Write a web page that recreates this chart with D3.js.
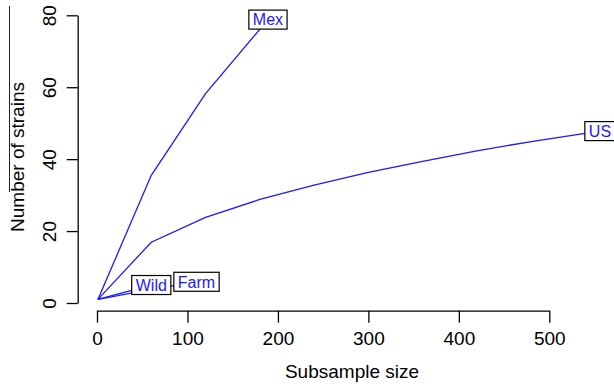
<!DOCTYPE html>
<html>
<head>
<meta charset="utf-8">
<script src="https://cdn.jsdelivr.net/npm/d3@7"></script>
<style>
  body { margin: 0; background: #fff; }
  svg { display: block; font-family: "Liberation Sans", Arial, Helvetica, sans-serif; }
  .axis path, .axis line { stroke: #000; stroke-width: 1.3; }
  .axis text { font-size: 19px; fill: #000; }
</style>
</head>
<body>
<div id="chart"></div>
<script>
// rarefaction curves: subsample size vs number of strains
const seriesNames = ['Mex', 'US', 'Wild', 'Farm'];
const mexSize = [1, 60, 120, 189];
const mexStrains = [1, 35.5, 58.2, 78.8];
const usSize = [1, 60, 120, 180, 240, 300, 360, 420, 480, 556];
const usStrains = [1, 16.9, 23.8, 28.8, 32.8, 36.3, 39.4, 42.3, 44.9, 47.8];
const wildSize = [1, 60];
const wildStrains = [1, 5.0];
const farmSize = [1, 60, 110];
const farmStrains = [1, 3.8, 5.9];
const xTicks = [0, 100, 200, 300, 400, 500];
const yTicks = [0, 20, 40, 60, 80];

const W = 614, H = 386;
const svg = d3.select('#chart').append('svg')
  .attr('width', W)
  .attr('height', H);

const x = d3.scaleLinear().domain([0, 500]).range([97, 549.3]);
const y = d3.scaleLinear().domain([0, 80]).range([303, 15.3]);

const series = [
  { name: seriesNames[0], size: mexSize, strains: mexStrains },
  { name: seriesNames[1], size: usSize, strains: usStrains },
  { name: seriesNames[2], size: wildSize, strains: wildStrains },
  { name: seriesNames[3], size: farmSize, strains: farmStrains }
];

// axes
const xAxis = d3.axisBottom(x).tickValues(xTicks).tickSizeInner(12).tickSizeOuter(0);
const gx = svg.append('g')
  .attr('class', 'axis')
  .attr('transform', 'translate(0,310.7)')
  .call(xAxis);
gx.selectAll('text').attr('y', 34).attr('dy', 0);

const yAxis = d3.axisLeft(y).tickValues(yTicks).tickSizeInner(11).tickSizeOuter(0);
const gy = svg.append('g')
  .attr('class', 'axis')
  .attr('transform', 'translate(77.7,0)')
  .call(yAxis);
gy.selectAll('text')
  .attr('transform', 'rotate(-90)')
  .attr('x', 0)
  .attr('y', -21.7)
  .attr('dy', 0)
  .attr('text-anchor', 'middle');

// axis titles
svg.append('text')
  .attr('x', 352)
  .attr('y', 378)
  .attr('text-anchor', 'middle')
  .style('font-size', '19px')
  .text('Subsample size');

svg.append('text')
  .attr('transform', 'translate(24,157) rotate(-90)')
  .attr('text-anchor', 'middle')
  .style('font-size', '19px')
  .text('Number of strains');

// stray rule at the left edge seen in the original
svg.append('line')
  .attr('x1', 9.5).attr('x2', 9.5)
  .attr('y1', 6).attr('y2', 192)
  .attr('stroke', '#222')
  .attr('stroke-width', 1);

// curves
const line = d3.line()
  .x(d => x(d[0]))
  .y(d => y(d[1]));

series.forEach(s => {
  const pts = s.size.map((v, i) => [v, s.strains[i]]);
  svg.append('path')
    .datum(pts)
    .attr('fill', 'none')
    .attr('stroke', '#1a1aff')
    .attr('stroke-width', 1.3)
    .attr('d', line);
});

// boxed labels at each curve's last point
series.forEach(s => {
  const n = s.size.length - 1;
  const cx = x(s.size[n]), cy = y(s.strains[n]);
  const g = svg.append('g');
  const rect = g.append('rect');
  const t = g.append('text')
    .attr('x', cx)
    .attr('y', cy)
    .attr('dy', '0.36em')
    .attr('text-anchor', 'middle')
    .style('font-size', '16px')
    .attr('fill', '#1a1aff')
    .text(s.name);
  const bb = t.node().getBBox();
  const padX = 4, h = 19;
  rect.attr('x', bb.x - padX)
    .attr('y', cy - h / 2)
    .attr('width', bb.width + padX * 2)
    .attr('height', h)
    .attr('fill', '#fff')
    .attr('stroke', '#000')
    .attr('stroke-width', 1.2);
});
</script>
</body>
</html>
